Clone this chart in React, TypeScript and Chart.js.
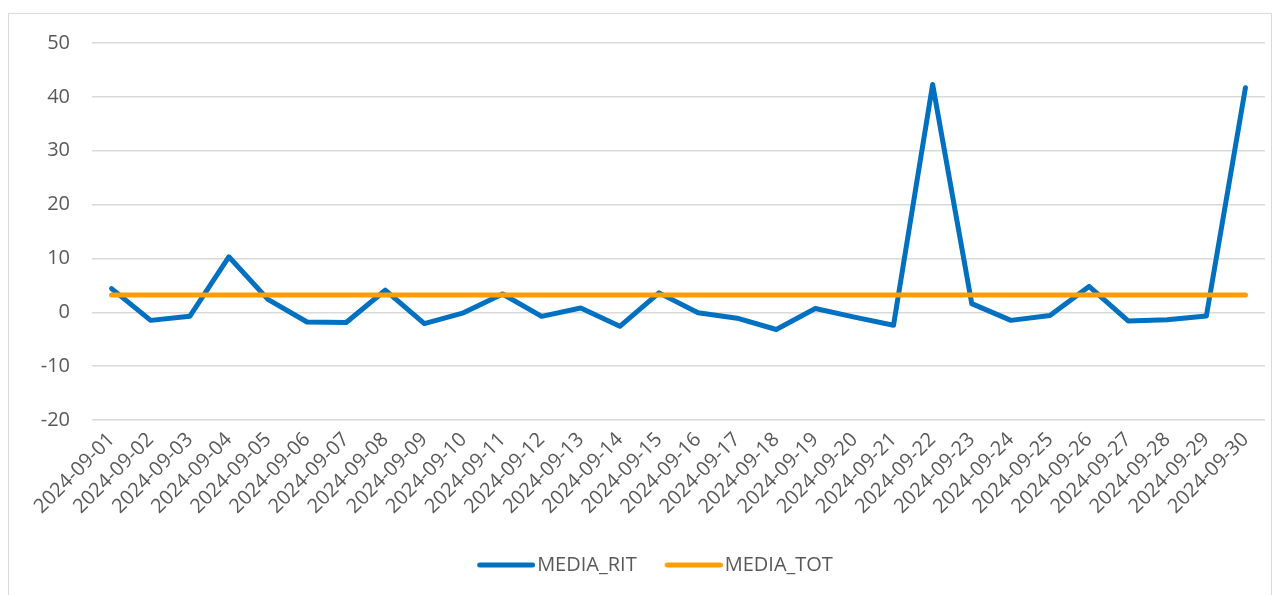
import React, { useEffect, useRef } from 'react';
import { Chart, registerables } from 'chart.js';

Chart.register(...registerables);

const categories = [
  '2024-09-01', '2024-09-02', '2024-09-03', '2024-09-04', '2024-09-05',
  '2024-09-06', '2024-09-07', '2024-09-08', '2024-09-09', '2024-09-10',
  '2024-09-11', '2024-09-12', '2024-09-13', '2024-09-14', '2024-09-15',
  '2024-09-16', '2024-09-17', '2024-09-18', '2024-09-19', '2024-09-20',
  '2024-09-21', '2024-09-22', '2024-09-23', '2024-09-24', '2024-09-25',
  '2024-09-26', '2024-09-27', '2024-09-28', '2024-09-29', '2024-09-30',
];

const mediaRit = [
  4.4, -1.5, -0.75, 10.3, 2.4, -1.8, -1.9, 4.1, -2.1, -0.1,
  3.4, -0.75, 0.8, -2.6, 3.6, -0.1, -1.1, -3.2, 0.7, -0.9,
  -2.4, 42.3, 1.6, -1.5, -0.6, 4.8, -1.6, -1.4, -0.7, 41.7,
];

const mediaTot = [
  3.2, 3.2, 3.2, 3.2, 3.2, 3.2, 3.2, 3.2, 3.2, 3.2,
  3.2, 3.2, 3.2, 3.2, 3.2, 3.2, 3.2, 3.2, 3.2, 3.2,
  3.2, 3.2, 3.2, 3.2, 3.2, 3.2, 3.2, 3.2, 3.2, 3.2,
];

const seriesNames = ['MEDIA_RIT', 'MEDIA_TOT'];
const seriesColors = ['#0070C0', '#FF9E00'];
const yTicks = { min: -20, max: 50, step: 10 };

const FONT = "'Open Sans', 'Liberation Sans', sans-serif";
const TEXT = '#595959';

function makeSwatch(color: string): HTMLCanvasElement {
  const c = document.createElement('canvas');
  c.width = 67;
  c.height = 10;
  const ctx = c.getContext('2d')!;
  ctx.strokeStyle = color;
  ctx.lineWidth = 5;
  ctx.lineCap = 'round';
  ctx.beginPath();
  ctx.moveTo(11.5, 5);
  ctx.lineTo(64.5, 5);
  ctx.stroke();
  return c;
}

const legendShift = {
  id: 'legendShift',
  afterLayout(chart: any) {
    const l = chart.legend;
    if (l) {
      l.left += 12;
      l.right += 12;
    }
  },
};

export default function App() {
  const canvasRef = useRef<HTMLCanvasElement | null>(null);

  useEffect(() => {
    if (!canvasRef.current) return;
    const chart = new Chart(canvasRef.current, {
      type: 'line',
      plugins: [legendShift],
      data: {
        labels: categories,
        datasets: [
          {
            label: seriesNames[0],
            data: mediaRit,
            borderColor: seriesColors[0],
            backgroundColor: seriesColors[0],
            borderWidth: 5,
            pointRadius: 0,
            pointHoverRadius: 0,
            borderCapStyle: 'round',
            borderJoinStyle: 'round',
            tension: 0,
            order: 1,
            pointStyle: makeSwatch(seriesColors[0]),
          },
          {
            label: seriesNames[1],
            data: mediaTot,
            borderColor: seriesColors[1],
            backgroundColor: seriesColors[1],
            borderWidth: 5,
            pointRadius: 0,
            pointHoverRadius: 0,
            borderCapStyle: 'round',
            borderJoinStyle: 'round',
            tension: 0,
            order: 0,
            pointStyle: makeSwatch(seriesColors[1]),
          },
        ],
      },
      options: {
        animation: false,
        responsive: false,
        maintainAspectRatio: false,
        layout: { padding: { left: 20, right: 17, top: 43, bottom: 10 } },
        plugins: {
          tooltip: { enabled: false },
          legend: {
            position: 'bottom',
            labels: {
              usePointStyle: true,
              pointStyleWidth: 51,
              padding: 27,
              color: TEXT,
              font: { family: FONT, size: 20 },
              sort: (a: any, b: any) => a.datasetIndex - b.datasetIndex,
            },
          },
        },
        scales: {
          x: {
            offset: true,
            grid: { display: false, drawTicks: false },
            border: { display: false },
            ticks: {
              autoSkip: false,
              minRotation: 45,
              maxRotation: 45,
              padding: 8,
              color: TEXT,
              font: { family: FONT, size: 20 },
            },
            afterFit: (scale: any) => {
              scale.height = 108;
            },
          },
          y: {
            min: yTicks.min,
            max: yTicks.max,
            grid: { color: '#d9d9d9', lineWidth: 1.5, drawTicks: false },
            border: { display: false },
            ticks: {
              stepSize: yTicks.step,
              padding: 22,
              color: TEXT,
              font: { family: FONT, size: 20 },
            },
            afterFit: (scale: any) => {
              scale.width = 72;
            },
          },
        },
      },
    });
    return () => chart.destroy();
  }, []);

  return (
    <div style={{ position: 'fixed', left: 0, top: 0, width: 1282, height: 595, background: '#fff', overflow: 'hidden' }}>
      <div
        style={{
          position: 'absolute',
          left: 8,
          top: 13,
          width: 1264,
          height: 620,
          border: '1.5px solid #d9d9d9',
          boxSizing: 'border-box',
        }}
      />
      <canvas
        ref={canvasRef}
        width={1282}
        height={595}
        style={{ position: 'absolute', left: 0, top: 0, width: 1282, height: 595 }}
      />
    </div>
  );
}
